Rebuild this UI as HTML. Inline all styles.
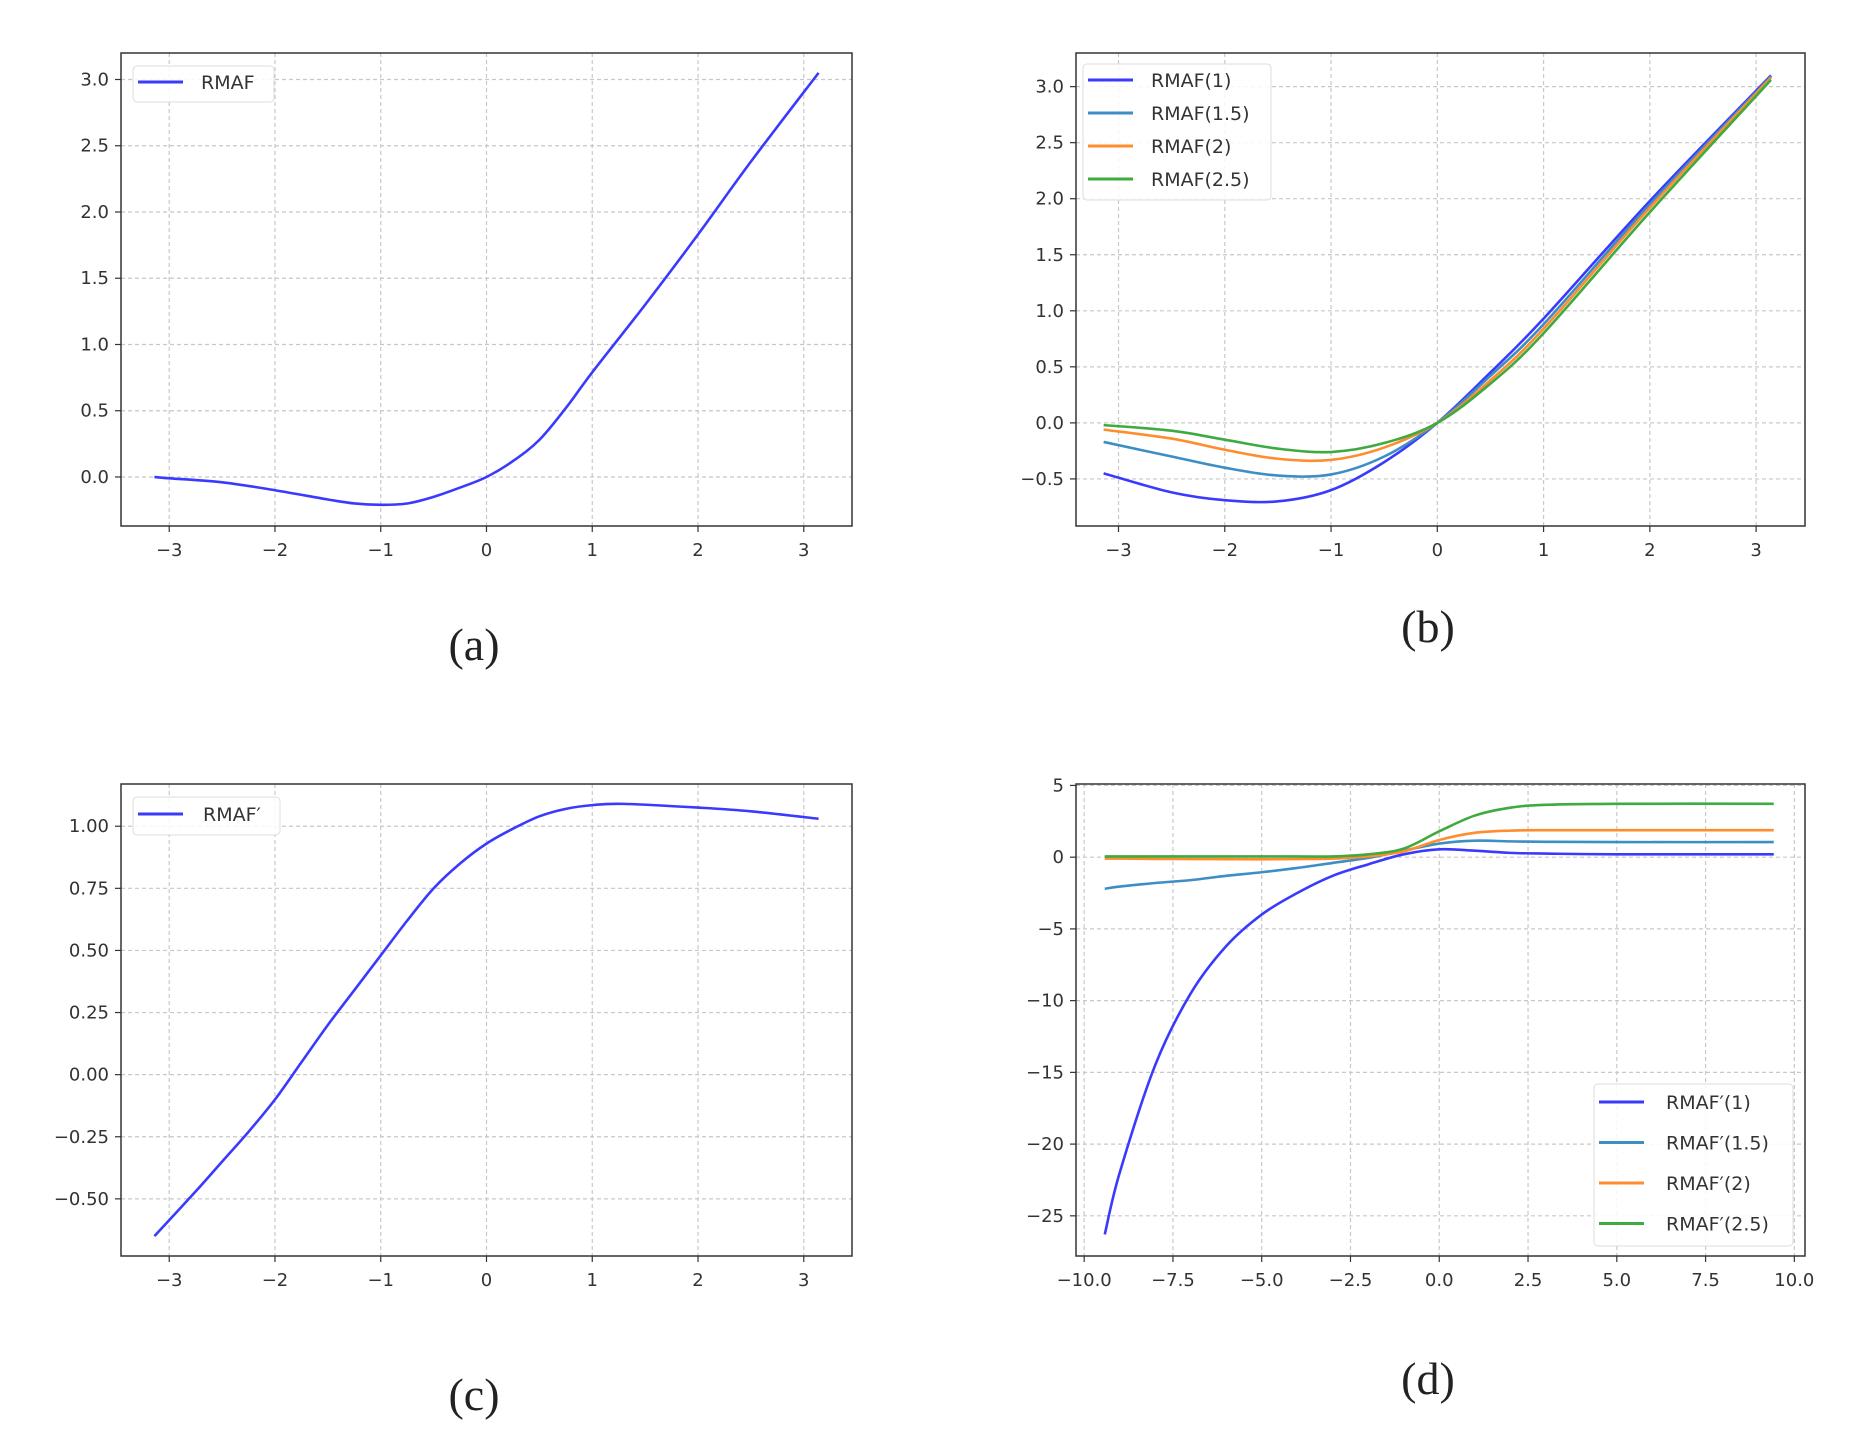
<!DOCTYPE html>
<html><head><meta charset="utf-8"><style>
html,body{margin:0;padding:0;background:#fff;}
svg{display:block;}
text{font-family:"DejaVu Sans","Liberation Sans",sans-serif;fill:#333;}
.cap{font-family:"Liberation Serif",serif;font-size:46px;fill:#222;}
</style></head><body>
<svg id="fig" width="1872" height="1442" viewBox="0 0 1872 1442" xmlns="http://www.w3.org/2000/svg">
<text class="cap" x="474" y="660" text-anchor="middle">(a)</text>
<text class="cap" x="1428" y="642" text-anchor="middle">(b)</text>
<text class="cap" x="474" y="1410" text-anchor="middle">(c)</text>
<text class="cap" x="1428" y="1394" text-anchor="middle">(d)</text>
</svg>
<script>
// ---- data ----
const aX = [-3.14,-3,-2.5,-2,-1.5,-1.25,-1,-0.75,-0.5,-0.25,0,0.25,0.5,0.75,1,1.5,2,2.5,3.14];
const aY = [0,-0.01,-0.04,-0.1,-0.17,-0.2,-0.21,-0.2,-0.15,-0.08,0,0.12,0.28,0.52,0.79,1.3,1.83,2.38,3.05];
const bX = [-3.14,-2.5,-2,-1.5,-1,-0.5,0,0.5,1,2,3.14];
const b1 = [-0.45,-0.62,-0.69,-0.7,-0.6,-0.35,0,0.45,0.93,1.98,3.1];
const b15 = [-0.17,-0.3,-0.4,-0.47,-0.46,-0.3,0,0.42,0.88,1.95,3.09];
const b2 = [-0.06,-0.14,-0.24,-0.32,-0.33,-0.22,0,0.38,0.84,1.92,3.08];
const b25 = [-0.02,-0.07,-0.15,-0.23,-0.26,-0.18,0,0.35,0.8,1.88,3.06];
const cX = [-3.14,-2.75,-2.5,-2.25,-2,-1.75,-1.5,-1.25,-1,-0.75,-0.5,-0.25,0,0.25,0.5,0.75,1,1.3,2,2.5,3.14];
const cY = [-0.65,-0.47,-0.35,-0.23,-0.1,0.05,0.2,0.34,0.48,0.62,0.75,0.85,0.93,0.99,1.04,1.07,1.085,1.09,1.075,1.06,1.03];
const dX = [-9.42,-9,-8,-7,-6,-5,-4,-3,-2,-1,0,1,2,3,5,9.42];
const d1 = [-26.3,-22,-14.5,-9.5,-6.2,-4,-2.5,-1.3,-0.5,0.2,0.55,0.45,0.3,0.25,0.2,0.2];
const d15 = [-2.2,-2.05,-1.8,-1.6,-1.3,-1.05,-0.75,-0.4,-0.05,0.45,0.95,1.15,1.1,1.07,1.05,1.05];
const d2 = [-0.1,-0.1,-0.12,-0.13,-0.14,-0.15,-0.13,-0.1,0.05,0.4,1.2,1.7,1.85,1.88,1.88,1.88];
const d25 = [0.05,0.05,0.05,0.05,0.05,0.05,0.05,0.05,0.2,0.6,1.8,2.9,3.45,3.65,3.72,3.72];
const ticksA = [-3,-2,-1,0,1,2,3];
const ticksAY = [0,0.5,1,1.5,2,2.5,3];
const ticksBY = [-0.5,0,0.5,1,1.5,2,2.5,3];
const ticksCY = [-0.5,-0.25,0,0.25,0.5,0.75,1];
const ticksDX = [-10,-7.5,-5,-2.5,0,2.5,5,7.5,10];
const ticksDY = [-25,-20,-15,-10,-5,0,5];
const labA = ["−3","−2","−1","0","1","2","3"];
const labAY = ["0.0","0.5","1.0","1.5","2.0","2.5","3.0"];
const labBY = ["−0.5","0.0","0.5","1.0","1.5","2.0","2.5","3.0"];
const labCY = ["−0.50","−0.25","0.00","0.25","0.50","0.75","1.00"];
const labDX = ["−10.0","−7.5","−5.0","−2.5","0.0","2.5","5.0","7.5","10.0"];
const labDY = ["−25","−20","−15","−10","−5","0","5"];

const NS="http://www.w3.org/2000/svg";
const svg=document.getElementById('fig');
function mk(tag,attrs,parent){const e=document.createElementNS(NS,tag);for(const k in attrs)e.setAttribute(k,attrs[k]);(parent||svg).appendChild(e);return e;}
const C1="#3a3aff",C15="#3d8ec4",C2="#ff8c2e",C25="#3faa3f";

function panel(name,box,xd,yd,xt,xl,yt,yl,series,legend){
  const g=mk('g',{});
  
  
  const sx=v=>box.l+(v-xd[0])/(xd[1]-xd[0])*(box.r-box.l);
  const sy=v=>box.b-(v-yd[0])/(yd[1]-yd[0])*(box.b-box.t);
  xt.forEach((v,i)=>{const x=sx(v);
    const gl=mk('line',{x1:x,x2:x,y1:box.t,y2:box.b,stroke:'#c8c8c8','stroke-width':1.2,'stroke-dasharray':'4,3'},g);
    
    mk('line',{x1:x,x2:x,y1:box.b,y2:box.b+6,stroke:'#333','stroke-width':1.2},g);
    const t=mk('text',{x:x,y:box.b+30,'text-anchor':'middle','font-size':18},g);
    t.textContent=xl[i];});
  yt.forEach((v,i)=>{const y=sy(v);
    const gl=mk('line',{x1:box.l,x2:box.r,y1:y,y2:y,stroke:'#c8c8c8','stroke-width':1.2,'stroke-dasharray':'4,3'},g);
    
    mk('line',{x1:box.l-6,x2:box.l,y1:y,y2:y,stroke:'#333','stroke-width':1.2},g);
    const t=mk('text',{x:box.l-12,y:y+6,'text-anchor':'end','font-size':18},g);
    t.textContent=yl[i];});
  series.forEach(s=>{
    const P=s.x.map((v,i)=>[sx(v),sy(s.y[i])]);
    let d='M'+P[0][0]+','+P[0][1];
    for(let i=0;i<P.length-1;i++){const p0=P[Math.max(i-1,0)],p1=P[i],p2=P[i+1],p3=P[Math.min(i+2,P.length-1)];
      d+=' C'+(p1[0]+(p2[0]-p0[0])/6)+','+(p1[1]+(p2[1]-p0[1])/6)+' '+(p2[0]-(p3[0]-p1[0])/6)+','+(p2[1]-(p3[1]-p1[1])/6)+' '+p2[0]+','+p2[1];}
    const pa=mk('path',{d:d,fill:'none',stroke:s.c,'stroke-width':2.6},g);
    });
  const fr=mk('rect',{x:box.l,y:box.t,width:box.r-box.l,height:box.b-box.t,fill:'none',stroke:'#333','stroke-width':1.5},g);
  
  const lg=mk('g',{},g);
  
  mk('rect',{x:legend.x,y:legend.y,width:legend.w,height:legend.h,rx:4,fill:'#fff','fill-opacity':0.85,stroke:'#ddd'},lg);
  legend.items.forEach((it,i)=>{const y=legend.y0+i*legend.dy;
    mk('line',{x1:legend.x+5,x2:legend.x+50,y1:y,y2:y,stroke:it.c,'stroke-width':3},lg);
    const t=mk('text',{x:legend.x+legend.tx,y:y+7,'font-size':19},lg);
    t.textContent=it.t;});
}
panel('panel-a',{l:121,r:852,t:53,b:526},[-3.456,3.456],[-0.37,3.2],ticksA,labA,ticksAY,labAY,
  [{x:aX,y:aY,c:C1,n:'rmaf-line'}],
  {x:133,y:66,w:141,h:36,y0:82,dy:0,tx:68,items:[{t:'RMAF',c:C1}]});
panel('panel-b',{l:1076,r:1805,t:53,b:526},[-3.4,3.46],[-0.92,3.3],ticksA,labA,ticksBY,labBY,
  [{x:bX,y:b1,c:C1,n:'rmaf-1-line'},{x:bX,y:b15,c:C15,n:'rmaf-1.5-line'},{x:bX,y:b2,c:C2,n:'rmaf-2-line'},{x:bX,y:b25,c:C25,n:'rmaf-2.5-line'}],
  {x:1083,y:64,w:188,h:136,y0:80,dy:33,tx:68,items:[{t:'RMAF(1)',c:C1},{t:'RMAF(1.5)',c:C15},{t:'RMAF(2)',c:C2},{t:'RMAF(2.5)',c:C25}]});
panel('panel-c',{l:121,r:852,t:784,b:1256},[-3.456,3.456],[-0.73,1.17],ticksA,labA,ticksCY,labCY,
  [{x:cX,y:cY,c:C1,n:'rmaf-derivative-line'}],
  {x:133,y:797,w:147,h:38,y0:814,dy:0,tx:70,items:[{t:'RMAF′',c:C1}]});
panel('panel-d',{l:1076,r:1805,t:784,b:1256},[-10.23,10.3],[-27.8,5.1],ticksDX,labDX,ticksDY,labDY,
  [{x:dX,y:d1,c:C1,n:'rmaf-prime-1-line'},{x:dX,y:d15,c:C15,n:'rmaf-prime-1.5-line'},{x:dX,y:d2,c:C2,n:'rmaf-prime-2-line'},{x:dX,y:d25,c:C25,n:'rmaf-prime-2.5-line'}],
  {x:1594,y:1084,w:199,h:162,y0:1102,dy:40.5,tx:72,items:[{t:'RMAF′(1)',c:C1},{t:'RMAF′(1.5)',c:C15},{t:'RMAF′(2)',c:C2},{t:'RMAF′(2.5)',c:C25}]});
</script>
</body></html>
